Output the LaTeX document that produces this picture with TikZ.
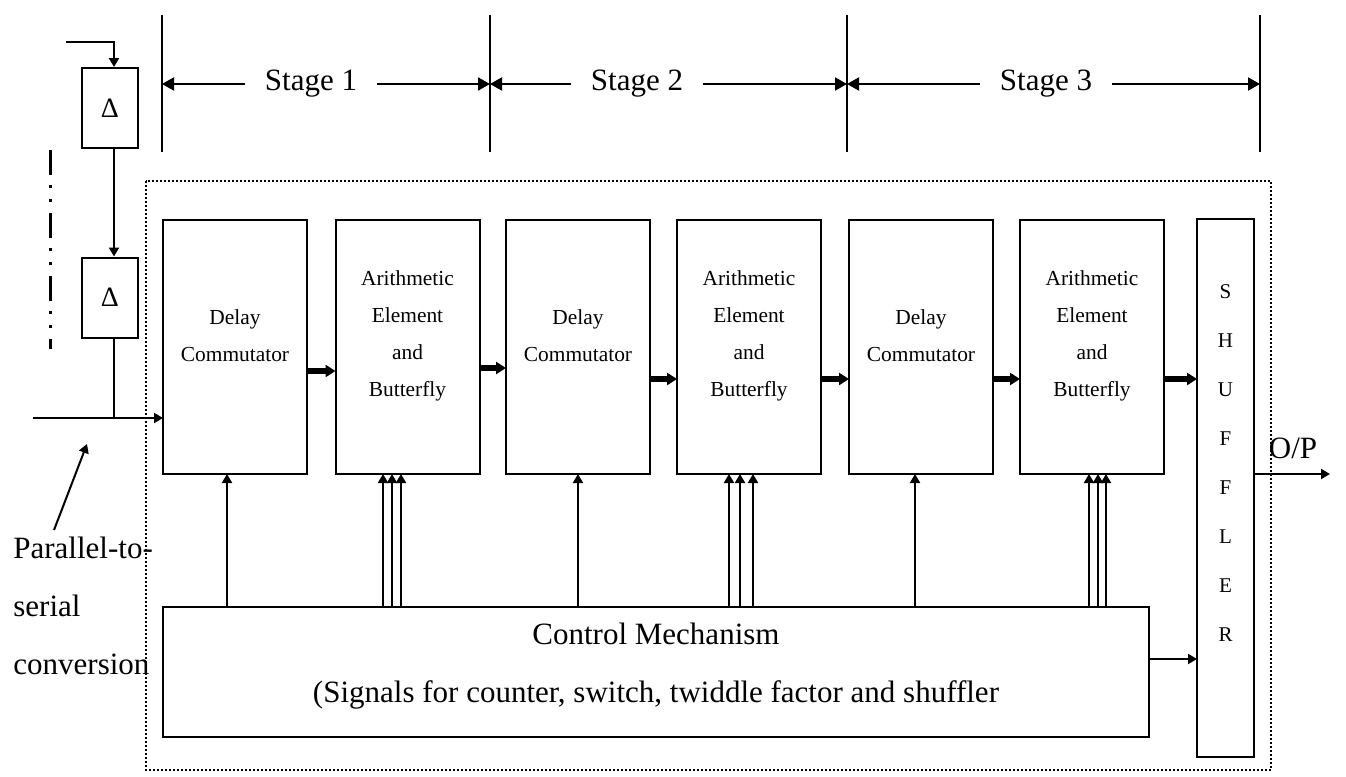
\documentclass[tikz,border=0pt]{standalone}
\usepackage{fontspec}
\setmainfont{Liberation Serif}
\usetikzlibrary{arrows.meta}
\tikzset{
	blk/.style={draw, line width=1pt, inner sep=0pt, outer sep=0pt, minimum width=72pt, minimum height=127pt},
	blktext/.style={align=center, font=\fontsize{10.7}{18.5}\selectfont},
	big/.style={font=\fontsize{15.5}{29}\selectfont},
	delaybox/.style={draw, line width=1pt, inner sep=0pt, minimum width=28pt, minimum height=40pt, font=\fontsize{14}{16}\selectfont},
	sig/.style={line width=1pt, -{Triangle[length=4.5pt, width=5pt]}},
	fat/.style={line width=2.7pt, -{Triangle[length=5pt, width=6pt]}},
	stagearrow/.style={line width=1pt, -{Triangle[length=6pt, width=6.5pt]}},
	stageline/.style={line width=0.8pt},
	mydots/.style={line width=0.8pt, dash pattern=on 0.8pt off 1.2pt},
	dashdot/.style={line width=1.5pt, dash pattern=on 12.5pt off 5pt on 1.5pt off 5.5pt on 1.5pt off 5.5pt}
}
\begin{document}
\begin{tikzpicture}[x=0.5pt, y=-0.5pt]
	\useasboundingbox (0,0) rectangle (1346,777);
	% stage markers
	\foreach \x/\n in {162/1, 490/2, 847/3, 1260/4}{
		\draw[stageline] (\x,15) -- (\x,152);
		\coordinate (t\n) at (\x,84);
	}
	\node[big, inner xsep=10pt] (s1) at (311,84) {Stage 1};
	\node[big, inner xsep=10pt] (s2) at (637,84) {Stage 2};
	\node[big, inner xsep=10pt] (s3) at (1046,84) {Stage 3};
	\draw[stagearrow] (s1.west) -- (t1);
	\draw[stagearrow] (s1.east) -- (t2);
	\draw[stagearrow] (s2.west) -- (t2);
	\draw[stagearrow] (s2.east) -- (t3);
	\draw[stagearrow] (s3.west) -- (t3);
	\draw[stagearrow] (s3.east) -- (t4);

	\draw[mydots] (146,181) rectangle (1271,770);

	% delay line
	\node[delaybox] (d1) at (110,108) {Δ};
	\node[delaybox] (d2) at (110,297.5) {Δ};
	\coordinate (jn) at (114,418);
	\coordinate (in0) at (33,418);
	\coordinate (top0) at (66,42);
	\draw[sig] (top0) -| (d1.north -| jn);
	\draw[sig] (d1.south -| jn) -- (d2.north -| jn);
	\draw[line width=1pt] (d2.south -| jn) -- (jn);
	\draw[dashdot] (50,150) -- (50,349);

	% pipeline
	\node[blk] (dc1) at (235,347) {};
	\node[blk] (ae1) at (407.5,347) {};
	\node[blk] (dc2) at (578,347) {};
	\node[blk] (ae2) at (749,347) {};
	\node[blk] (dc3) at (921,347) {};
	\node[blk] (ae3) at (1092,347) {};
	\foreach \b in {dc1,dc2,dc3}
		\node[blktext] at ([yshift=5.5pt]\b.center) {Delay\\Commutator};
	\foreach \b in {ae1,ae2,ae3}
		\node[blktext] at ([yshift=5.75pt]\b.center) {Arithmetic\\Element\\and\\Butterfly};
	\node[draw, line width=1pt, inner sep=0pt, outer sep=0pt, minimum width=28.5pt, minimum height=269pt] (shf) at (1225.5,488) {};
	\node[blktext, font=\fontsize{10.5}{24.5}\selectfont] at (1225.5,463.5) {S\\H\\U\\F\\F\\L\\E\\R};
	\node[draw, line width=1pt, inner sep=0pt, outer sep=0pt, minimum width=493pt, minimum height=65pt] (ctl) at (656,672) {};
	\node[big, align=center] at (656,666) {Control Mechanism\\(Signals for counter, switch, twiddle factor and shuffler};

	\draw[sig] (in0) -- (dc1.west |- jn);
	\draw[fat] ([yshift=-12pt]dc1.east) -- ([yshift=-12pt]ae1.west);
	\draw[fat] ([yshift=-10.5pt]ae1.east) -- ([yshift=-10.5pt]dc2.west);
	\draw[fat] ([yshift=-16pt]dc2.east) -- ([yshift=-16pt]ae2.west);
	\draw[fat] ([yshift=-16pt]ae2.east) -- ([yshift=-16pt]dc3.west);
	\draw[fat] ([yshift=-16pt]dc3.east) -- ([yshift=-16pt]ae3.west);
	\coordinate (a3o) at ([yshift=-16pt]ae3.east);
	\draw[fat] (a3o) -- (a3o -| shf.west);

	\foreach \x/\b in {227/dc1, 578/dc2, 915/dc3, 383/ae1, 392/ae1, 401/ae1, 729/ae2, 740/ae2, 753/ae2, 1089/ae3, 1098/ae3, 1106/ae3}{
		\coordinate (p) at (\x,0);
		\draw[sig] (ctl.north -| p) -- (\b.south -| p);
	}
	\coordinate (cto) at ([yshift=6.5pt]ctl.east);
	\draw[sig] (cto) -- (cto -| shf.west);

	\coordinate (op) at (1330,474);
	\draw[sig] (shf.east |- op) -- (op);
	\node[big] (oplbl) at (1293,448) {O/P};

	\node[big, align=left, anchor=west, inner xsep=0pt] (p2s) at (13,606) {Parallel-to-\\serial\\conversion};
	\coordinate (ptip) at (87,444);
	\draw[sig] ([xshift=20.5pt]p2s.north west) -- (ptip);
\end{tikzpicture}
\end{document}
